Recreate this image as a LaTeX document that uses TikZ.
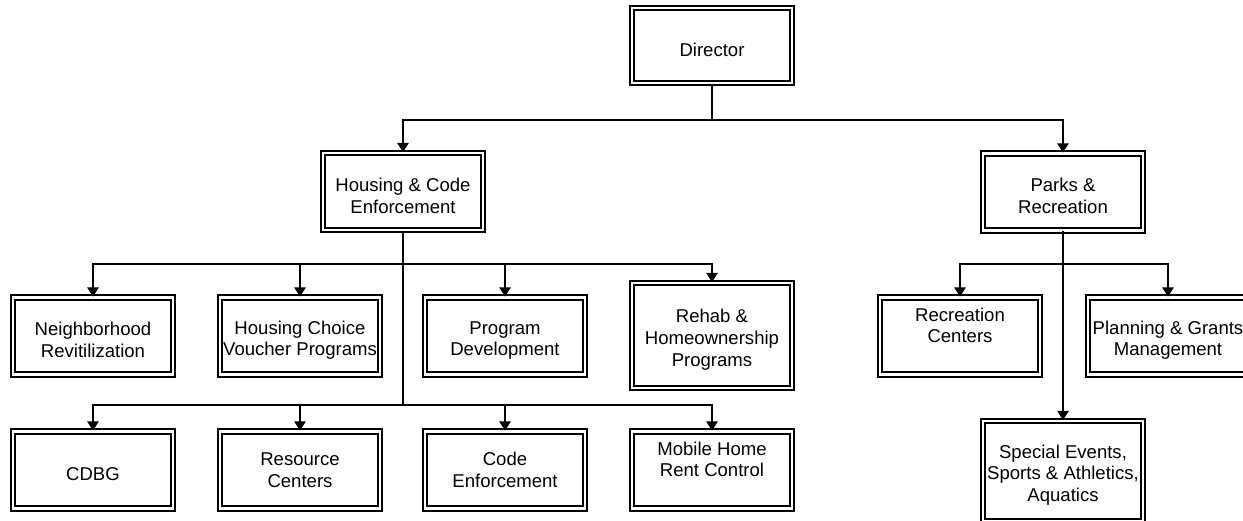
\documentclass[tikz,border=0pt]{standalone}
\usepackage{fontspec}
\setmainfont{Liberation Sans}
\usetikzlibrary{arrows.meta}

\def\boxwidth{4.0cm}
\def\boxheight{1.925cm}

\begin{document}
\begin{tikzpicture}[>={Triangle[width=8pt,length=6.5pt]}]
    \tikzstyle{unit}=[draw, double, line width=1.25pt, double distance=1.9pt, minimum width=\boxwidth, minimum height=\boxheight, align=center, inner sep=1pt, font=\fontsize{13.2}{15.4}\selectfont]
    \tikzstyle{tall unit}=[unit, minimum height=2.625cm]
    \tikzstyle{link}=[->, line width=1.1pt]

    \useasboundingbox (0,0) rectangle (31.075,-13.025);

    % Top of the chart
    \node[unit, minimum height=1.875cm] (dir) at (17.8,-1.1375) {~\\Director};

    % The two divisions
    \node[unit] (hce) at (10.075,-4.7875) {~\\Housing \& Code\\Enforcement};
    \node[unit] (parks) at (26.575,-4.8) {~\\Parks \&\\Recreation};

    % Heights of the horizontal runs
    \coordinate (bus0) at (0,-3.0);
    \coordinate (bus1) at (0,-6.6);
    \coordinate (bus2) at (0,-10.125);

    % Housing, first row
    \foreach \name/\x/\txt in {nbr/2.325/{~\\Neighborhood\\Revitilization}, hcv/7.5/{~\\Housing Choice\\Voucher Programs}, pdev/12.625/{~\\Program\\Development}}
        \node[unit] (\name) at (\x,-8.4) {\txt};
    \node[tall unit] (rehab) at (17.8,-8.3875) {~\\Rehab \&\\Homeownership\\Programs};

    % Housing, second row
    \foreach \name/\x/\txt in {cdbg/2.325/{~\\CDBG}, res/7.5/{Resource\\Centers}, code/12.625/{Code\\Enforcement}, mobile/17.8/{Mobile Home\\Rent Control\\~}}
        \node[unit] (\name) at (\x,-11.75) {\txt};

    % Parks side
    \node[unit] (rec) at (24.0,-8.4) {Recreation\\Centers\\~};
    \node[unit] (plan) at (29.2,-8.4) {~\\Planning \& Grants\\Management};
    \node[unit, minimum height=2.5cm] (spec) at (26.575,-11.775) {~\\Special Events,\\Sports \& Athletics,\\Aquatics};

    % Connect the director with the divisions
    \foreach \dest in {hce,parks}
        \draw[link] (dir.south) -- (dir.south |- bus0) -| (\dest.north);

    % Connect housing with both rows
    \foreach \dest in {nbr,hcv,pdev,rehab}
        \draw[link] (hce.south) -- (hce.south |- bus1) -| (\dest.north);
    \foreach \dest in {cdbg,res,code,mobile}
        \draw[link] (hce.south) -- (hce.south |- bus2) -| (\dest.north);

    % Connect parks with its units
    \foreach \dest in {rec,plan}
        \draw[link] (parks.south) -- (parks.south |- bus1) -| (\dest.north);
    \draw[link] (parks.south) -- (spec.north);
\end{tikzpicture}
\end{document}
